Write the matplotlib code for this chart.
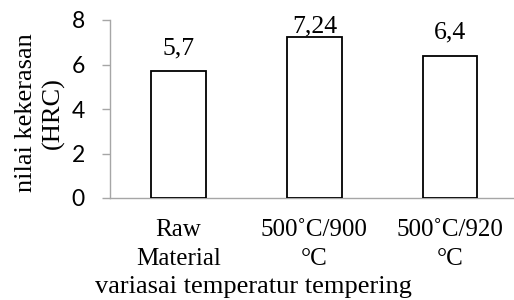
import matplotlib
matplotlib.use("Agg")
import matplotlib.pyplot as plt

categories = ["Raw\nMaterial", "500˚C/900\n°C", "500˚C/920\n°C"]
values = [5.7, 7.24, 6.4]
value_labels = ["5,7", "7,24", "6,4"]
yticks = [0, 2, 4, 6, 8]

W, H = 514, 300
fig = plt.figure(figsize=(W / 100, H / 100), dpi=100)
ax = fig.add_axes([110 / W, 1 - 198 / H, (514 - 110) / W, (198 - 20) / H])

x = list(range(len(values)))
ax.bar(x, values, width=0.4, facecolor="white", edgecolor="black", linewidth=1.3, zorder=3)

ax.set_xlim(-0.505, 2.47)
ax.set_ylim(0, 8)
ax.set_yticks(yticks)
ax.set_yticklabels([str(t) for t in yticks], fontfamily="Lato", fontsize=16.5)
ax.set_xticks(x)
ax.set_xticklabels(categories, fontfamily="Liberation Serif", fontsize=18, linespacing=1.4)

for s in ["top", "right"]:
    ax.spines[s].set_visible(False)
for s in ["left", "bottom"]:
    ax.spines[s].set_color("#A6A6A6")
    ax.spines[s].set_linewidth(1.0)
ax.tick_params(axis="y", length=6, width=1.0, color="#A6A6A6", pad=12)
ax.tick_params(axis="x", length=0, pad=15)

for xi, v, lab in zip(x, values, value_labels):
    ypos = min(v + 0.76, 7.42)
    ax.text(xi, ypos, lab, ha="center", va="baseline",
            fontfamily="Liberation Serif", fontsize=18.5, zorder=4)

fig.text(40 / W, 1 - 113 / H, "nilai kekerasan\n(HRC)", rotation=90,
         ha="center", va="center", fontfamily="Liberation Serif", fontsize=19,
         linespacing=1.3)
fig.text(253.5 / W, 1 - 293 / H, "variasai temperatur tempering", ha="center",
         va="baseline", fontfamily="Liberation Serif", fontsize=19)

fig.savefig("out.png", dpi=100)
